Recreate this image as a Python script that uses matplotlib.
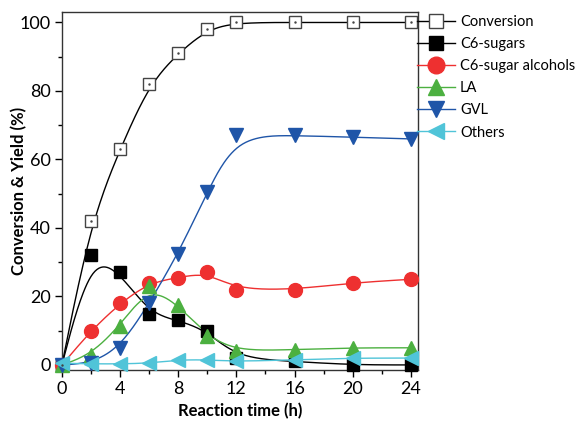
import matplotlib
import numpy as np

matplotlib.use("Agg")
import matplotlib.pyplot as plt
from matplotlib.lines import Line2D

plt.rcParams["font.family"] = ["Lato", "DejaVu Sans"]

time_h = [0, 2, 4, 6, 8, 10, 12, 16, 20, 24]
conversion = [0, 42, 63, 82, 91, 98, 100, 100, 100, 100]
c6_sugars = [0, 32, 27, 15, 13, 10, 2, 1, 0, 0]
c6_alcohols = [0, 10, 18, 24, 25.5, 27, 22, 22, 24, 25]
la = [0, 3, 11.5, 23, 17.5, 8.5, 4, 4.5, 5, 5]
gvl = [0, 0.5, 5, 18, 32.5, 50.5, 67, 67, 66.5, 66]
others = [0.5, 0.3, 0.3, 0.5, 1.5, 1.5, 1, 1.5, 2, 2]

series = [
    ("Conversion", conversion, "black", "s", "none"),
    ("C6-sugars", c6_sugars, "black", "s", "black"),
    ("C6-sugar alcohols", c6_alcohols, "#ee3030", "o", "#ee3030"),
    ("LA", la, "#4cb040", "^", "#4cb040"),
    ("GVL", gvl, "#1f55a8", "v", "#1f55a8"),
    ("Others", others, "#50c4d8", "<", "#50c4d8"),
]


def bspline(x, y, n=30):
    # uniform cubic B-spline with the data as control points (Origin "B-spline" line)
    px = np.concatenate([[x[0]] * 2, x, [x[-1]] * 2]).astype(float)
    py = np.concatenate([[y[0]] * 2, y, [y[-1]] * 2]).astype(float)
    t = np.linspace(0, 1, n)
    b0 = (1 - t) ** 3 / 6
    b1 = (3 * t**3 - 6 * t**2 + 4) / 6
    b2 = (-3 * t**3 + 3 * t**2 + 3 * t + 1) / 6
    b3 = t**3 / 6
    xs, ys = [], []
    for i in range(len(px) - 3):
        xs.append(b0 * px[i] + b1 * px[i + 1] + b2 * px[i + 2] + b3 * px[i + 3])
        ys.append(b0 * py[i] + b1 * py[i + 1] + b2 * py[i + 2] + b3 * py[i + 3])
    return np.concatenate(xs), np.concatenate(ys)


fig = plt.figure(figsize=(5.84, 4.21), dpi=100)
ax = fig.add_axes([0.106, 0.121, 0.61, 0.85])

handles = []
for label, vals, color, marker, face in series:
    sx, sy = bspline(time_h, vals)
    ax.plot(sx, sy, color=color, linewidth=1.0, zorder=2)
    hollow = face == "none"
    ax.plot(
        time_h,
        vals,
        linestyle="none",
        marker=marker,
        markersize=8 if marker == "s" else 10,
        markerfacecolor="white" if hollow else face,
        markeredgecolor="#444444" if hollow else color,
        markeredgewidth=1.0,
        zorder=3,
        clip_on=False,
    )
    if hollow:
        ax.plot(time_h, vals, linestyle="none", marker=".", markersize=1.5,
                color="#444444", zorder=4, clip_on=False)
    handles.append(
        Line2D(
            [], [], color=color, marker=marker,
            markersize=10 if marker == "s" else 12,
            markerfacecolor="white" if hollow else face,
            markeredgecolor="#444444" if hollow else color,
            linewidth=1.0, label=label,
        )
    )

ax.set_xlim(0, 24.5)
ax.set_ylim(-1.5, 103)
ax.set_xticks([0, 4, 8, 12, 16, 20, 24])
ax.set_xticks(np.arange(2, 24, 4), minor=True)
ax.set_yticks([0, 20, 40, 60, 80, 100])
ax.set_yticks([10, 30, 50, 70, 90], minor=True)
ax.tick_params(axis="both", which="major", direction="out", length=5, width=1,
               labelsize=13, top=False, right=False, pad=3)
ax.tick_params(axis="both", which="minor", direction="out", length=3, width=1,
               top=False, right=False)
for sp in ax.spines.values():
    sp.set_linewidth(1.0)
    sp.set_color("#333333")

ax.set_xlabel("Reaction time (h)", fontsize=12, fontweight="bold", labelpad=4)
ax.set_ylabel("Conversion & Yield (%)", fontsize=12, fontweight="bold")
ax.yaxis.set_label_coords(-0.097, 0.5)

fig.legend(
    handles=handles,
    loc="upper left",
    bbox_to_anchor=(0.714, 0.965),
    frameon=False,
    fontsize=10.5,
    handlelength=2.6,
    handletextpad=0.35,
    labelspacing=0.56,
    borderaxespad=0,
    borderpad=0,
)

fig.savefig("out.png", dpi=100)
